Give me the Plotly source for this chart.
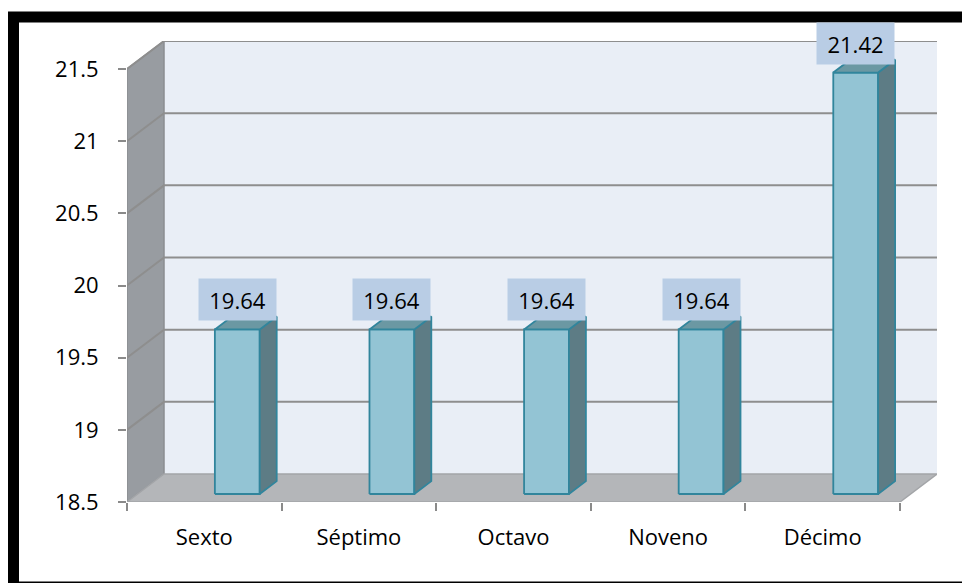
import plotly.graph_objects as go

# ---- data ----
categories = ["Sexto", "Séptimo", "Octavo", "Noveno", "Décimo"]
values = [19.64, 19.64, 19.64, 19.64, 21.42]
y_ticks = [18.5, 19, 19.5, 20, 20.5, 21, 21.5]
y_tick_text = ["18.5", "19", "19.5", "20", "20.5", "21", "21.5"]

# ---- geometry / style ----
OFF = 8  # page body margin offset
W, H = 970, 583
ML, MR, MT, MB = 127 - OFF, 33 + OFF, 41 - OFF, 81 + OFF
PW, PH = W - ML - MR, H - MT - MB
YMIN, YMAX = 18.5, 21.5
N = len(categories)
DX = 37 * N / (PW - 37)          # depth offset in x units
DY = 28 * (YMAX - YMIN) / (PH - 28)  # depth offset in y units
F1, F2 = 0.286, 0.745            # bar depth fractions
BX0, BX1 = 0.50, 0.79            # bar front-face position within category

FONT = "Open Sans"
WALL = "#e9eef6"
SIDEWALL = "#989ca1"
FLOOR = "#b4b6b9"
GRID = "#8e8e8e"
BAR_FRONT = "#93c4d4"
BAR_SIDE = "#5d7c85"
BAR_TOP = "#6b98a3"
BAR_LINE = "#31859c"
LABEL_BG = "#b9cde5"

fig = go.Figure()


def poly(xs, ys, fill, line_color, line_width=1):
    fig.add_trace(go.Scatter(
        x=list(xs) + [xs[0]], y=list(ys) + [ys[0]], mode="lines",
        fill="toself", fillcolor=fill,
        line=dict(color=line_color, width=line_width),
        hoverinfo="skip", showlegend=False))


def line(xs, ys, color, width=2):
    fig.add_trace(go.Scatter(
        x=xs, y=ys, mode="lines", line=dict(color=color, width=width),
        hoverinfo="skip", showlegend=False))


# back wall
poly([DX, N + DX, N + DX, DX], [YMIN + DY, YMIN + DY, YMAX + DY, YMAX + DY], WALL, WALL, 0.5)
# left side wall
poly([0, DX, DX, 0], [YMIN, YMIN + DY, YMAX + DY, YMAX], SIDEWALL, "#8a8d91", 1.5)
# floor
poly([0, N, N + DX, DX], [YMIN, YMIN, YMIN + DY, YMIN + DY], FLOOR, "#a3a5a8", 1.5)

# gridlines (side wall + back wall)
for v in y_ticks[1:]:
    line([0, DX, N + DX], [v, v + DY, v + DY], GRID, 2)

# bars
for i, v in enumerate(values):
    xl, xr = i + BX0, i + BX1
    # front face
    poly([xl + F1 * DX, xr + F1 * DX, xr + F1 * DX, xl + F1 * DX],
         [YMIN + F1 * DY, YMIN + F1 * DY, v + F1 * DY, v + F1 * DY],
         BAR_FRONT, BAR_LINE, 1.8)
    # side face
    poly([xr + F1 * DX, xr + F2 * DX, xr + F2 * DX, xr + F1 * DX],
         [YMIN + F1 * DY, YMIN + F2 * DY, v + F2 * DY, v + F1 * DY],
         BAR_SIDE, BAR_LINE, 1.8)
    # top face
    poly([xl + F1 * DX, xr + F1 * DX, xr + F2 * DX, xl + F2 * DX],
         [v + F1 * DY, v + F1 * DY, v + F2 * DY, v + F2 * DY],
         BAR_TOP, BAR_LINE, 1.8)
    # data label
    fig.add_annotation(
        x=(xl + xr) / 2 + F1 * DX, y=v + F1 * DY, xref="x", yref="y",
        text=f"{v:.2f}", showarrow=False, yanchor="bottom", yshift=8,
        width=77, height=41, bgcolor=LABEL_BG, borderpad=0,
        font=dict(family=FONT, size=22, color="black"))


def px_to_paper_x(px):
    return (px - OFF - ML) / PW


def px_to_paper_y(py):
    return (H - MB - (py - OFF)) / PH


# outer black frame (screen pixel positions)
fig.add_shape(type="rect", xref="paper", yref="paper",
              x0=px_to_paper_x(13.5), x1=px_to_paper_x(1000),
              y0=px_to_paper_y(587), y1=px_to_paper_y(17),
              line=dict(color="black", width=11), fillcolor="rgba(0,0,0,0)",
              layer="above")

fig.update_layout(
    width=W, height=H,
    margin=dict(l=ML, r=MR, t=MT, b=MB),
    paper_bgcolor="white", plot_bgcolor="white",
    showlegend=False,
    font=dict(family=FONT, size=22, color="black"),
    xaxis=dict(
        range=[0, N + DX], showgrid=False, zeroline=False, showline=False,
        tickvals=[i + 0.5 for i in range(N)], ticktext=categories,
        ticks="", ticklabelstandoff=20,
        tickfont=dict(family=FONT, size=22, color="black"),
        minor=dict(tickvals=list(range(N + 1)), ticks="outside", ticklen=8,
                   tickwidth=1.5, tickcolor="#8a8a8a", showgrid=False),
        fixedrange=True),
    yaxis=dict(
        range=[YMIN, YMAX + DY], showgrid=False, zeroline=False, showline=False,
        tickvals=y_ticks, ticktext=y_tick_text,
        ticks="outside", ticklen=8, tickwidth=1.5, tickcolor="#8a8a8a",
        ticklabelstandoff=15,
        tickfont=dict(family=FONT, size=22, color="black"),
        fixedrange=True),
)

fig.write_html("out.html")
